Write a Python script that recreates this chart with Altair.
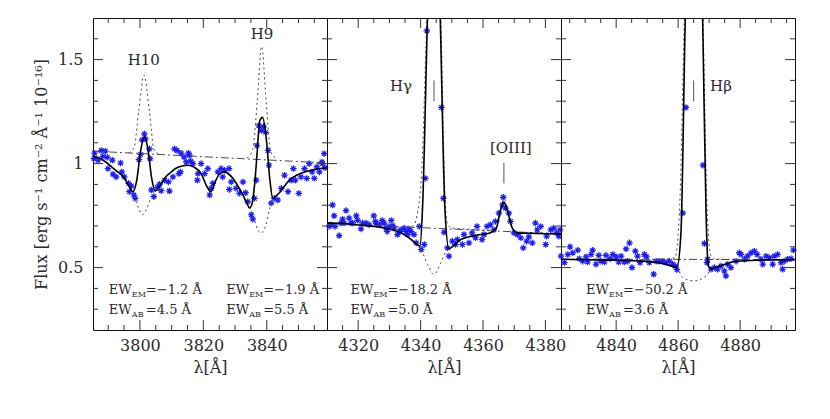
import altair as alt
import pandas as pd

FONT = "DejaVu Serif"
TXT = "#2a2a2a"
W, H = 234, 312
Y_DOMAIN = [0.2, 1.7]
Y_MAJ = [0.5, 1.0, 1.5]
Y_MIN = [0.3, 0.4, 0.6, 0.7, 0.8, 0.9, 1.1, 1.2, 1.3, 1.4, 1.6]

# ---------------- panel 1 (H10, H9) ----------------
p1_dom = [3785.2, 3859.0]
p1_xmaj = [3800, 3820, 3840]
p1_xmin = [3790, 3795, 3805, 3810, 3815, 3825, 3830, 3835, 3845, 3850, 3855]
p1_wl = [3785.5, 3785.7, 3786.8, 3787.8, 3788.3, 3789.1, 3789.7, 3789.9, 3791.3, 3791.5, 3792.5,
         3793.9, 3794.3, 3795.1, 3796.4, 3796.7, 3797.3, 3798.1, 3798.5, 3799.7, 3800.2, 3800.7,
         3801.4, 3801.7, 3803.0, 3803.2, 3803.6, 3804.4, 3805.5, 3806.2, 3806.7, 3807.8, 3809.0,
         3809.3, 3810.4, 3810.9, 3811.7, 3812.3, 3812.8, 3813.0, 3813.9, 3814.6, 3815.3, 3815.6,
         3816.0, 3816.7, 3818.1, 3818.3, 3819.3, 3820.4, 3821.4, 3822.0, 3822.5, 3823.0, 3824.6,
         3825.6, 3826.1, 3826.7, 3828.1, 3828.2, 3828.8, 3830.3, 3831.4, 3832.5, 3833.3, 3834.0,
         3835.1, 3835.6, 3836.1, 3836.7, 3836.9, 3837.5, 3838.3, 3839.0, 3839.6, 3840.4, 3840.7,
         3841.4, 3842.4, 3843.5, 3844.6, 3845.6, 3846.7, 3847.7, 3848.4, 3849.0, 3850.1, 3850.8,
         3851.9, 3852.6, 3853.4, 3854.3, 3855.0, 3855.8, 3856.6, 3857.4, 3857.6, 3858.1, 3858.4]
p1_fl = [1.024, 1.050, 1.016, 1.063, 1.035, 1.060, 1.030, 0.976, 1.016, 0.949, 0.936,
         1.003, 0.960, 0.936, 0.905, 0.865, 0.892, 0.849, 0.833, 1.019, 1.044, 1.114,
         1.143, 1.119, 1.071, 1.024, 0.873, 0.841, 0.886, 0.901, 0.870, 0.920, 0.912,
         0.868, 0.936, 1.071, 1.063, 0.952, 0.960, 1.050, 1.032, 1.008, 1.050, 1.040,
         1.012, 1.000, 0.920, 0.952, 1.000, 0.952, 0.976, 0.849, 0.881, 0.905, 0.960,
         0.976, 0.936, 0.968, 0.976, 0.876, 0.912, 0.881, 0.857, 0.912, 0.860, 0.817,
         0.754, 0.733, 0.833, 0.920, 1.087, 1.182, 1.159, 1.178, 1.150, 1.063, 0.992,
         0.810, 0.833, 0.825, 0.881, 0.944, 0.865, 0.920, 0.976, 0.920, 0.857, 0.936,
         0.976, 0.929, 1.000, 0.960, 0.929, 0.984, 0.960, 1.008, 1.000, 1.048, 0.980]
p1_mod_wl = [3785.2, 3787.0, 3789.0, 3791.0, 3793.0, 3794.2, 3795.5, 3796.8, 3797.8, 3799.0,
             3800.2, 3801.5, 3802.6, 3803.7, 3804.8, 3806.0, 3807.8, 3810.0, 3812.0, 3815.1,
             3817.2, 3819.3, 3820.9, 3822.4, 3823.8, 3825.1, 3826.7, 3828.0, 3829.3, 3831.0,
             3832.5, 3833.7, 3834.6, 3835.4, 3836.2, 3837.0, 3837.8, 3838.7, 3839.9, 3841.0,
             3841.9, 3843.0, 3844.0, 3845.5, 3847.1, 3849.5, 3852.4, 3855.5, 3859.0]
p1_mod_fl = [1.035, 1.028, 1.010, 0.985, 0.960, 0.945, 0.920, 0.885, 0.866, 0.920,
             1.060, 1.130, 1.060, 0.930, 0.868, 0.885, 0.930, 0.962, 0.982, 0.992,
             0.982, 0.952, 0.897, 0.865, 0.915, 0.950, 0.960, 0.950, 0.929, 0.890,
             0.849, 0.810, 0.787, 0.810, 0.905, 1.060, 1.206, 1.222, 1.111, 0.920,
             0.832, 0.845, 0.860, 0.890, 0.920, 0.945, 0.962, 0.973, 0.980]
p1_cont_wl = [3785.2, 3859.0]
p1_cont_fl = [1.060, 1.003]
p1_emi_seg = ["a"] * 7 + ["b"] * 7
p1_emi_wl = [3796.5, 3798.2, 3799.6, 3801.3, 3803.0, 3804.4, 3805.8,
             3833.8, 3835.6, 3837.0, 3838.4, 3839.8, 3841.2, 3843.0]
p1_emi_fl = [1.051, 1.080, 1.250, 1.425, 1.250, 1.070, 1.047,
             1.027, 1.070, 1.300, 1.563, 1.300, 1.060, 1.024]
p1_abs_seg = ["a"] * 8 + ["b"] * 9
p1_abs_wl = [3796.8, 3797.8, 3799.0, 3800.8, 3802.6, 3803.6, 3804.8, 3806.0,
             3833.7, 3834.6, 3835.6, 3836.7, 3838.1, 3839.6, 3840.9, 3841.9, 3843.0]
p1_abs_fl = [0.885, 0.862, 0.810, 0.754, 0.800, 0.845, 0.868, 0.885,
             0.810, 0.787, 0.760, 0.700, 0.665, 0.700, 0.780, 0.832, 0.845]
p1_lab_wl = [3801.2, 3838.5]
p1_lab_fl = [1.500, 1.624]
p1_lab_tx = ["H10", "H9"]
p1_ew_wl = [3790.2, 3790.2, 3827.2, 3827.2]
p1_ew_fl = [0.373, 0.278, 0.373, 0.278]
p1_ew_sub = ["EM", "AB", "EM", "AB"]
p1_ew_val = ["=\u22121.2  Å", "=4.5  Å", "=\u22121.9  Å", "=5.5  Å"]

# ---------------- panel 2 (Hgamma, [OIII]) ----------------
p2_dom = [4310.0, 4385.0]
p2_xmaj = [4320, 4340, 4360, 4380]
p2_xmin = [4315, 4325, 4330, 4335, 4345, 4350, 4355, 4365, 4370, 4375]
p2_wl = [4310.7, 4311.3, 4311.8, 4312.3, 4312.6, 4313.9, 4314.5, 4315.0, 4315.5, 4316.1, 4317.1,
         4317.7, 4318.2, 4319.4, 4319.8, 4320.9, 4321.4, 4322.5, 4323.5, 4325.0, 4325.5, 4325.7,
         4326.8, 4327.7, 4328.3, 4328.9, 4329.3, 4329.9, 4330.6, 4331.1, 4331.5, 4332.6, 4333.2,
         4333.7, 4334.7, 4335.3, 4335.8, 4336.3, 4336.9, 4337.9, 4338.6, 4339.6, 4340.2, 4341.2,
         4341.5, 4342.0, 4346.7, 4347.3, 4347.5, 4348.6, 4349.1, 4350.2, 4351.2, 4351.8, 4353.4,
         4353.9, 4355.5, 4356.5, 4357.6, 4358.1, 4359.7, 4360.3, 4361.3, 4362.4, 4363.5, 4364.0,
         4365.1, 4366.2, 4366.5, 4367.2, 4368.3, 4368.8, 4369.9, 4371.0, 4372.1, 4372.9, 4374.0,
         4374.7, 4375.8, 4376.8, 4377.4, 4378.5, 4380.1, 4380.4, 4381.7, 4382.7, 4383.6, 4384.3,
         4384.7]
p2_fl = [0.698, 0.705, 0.801, 0.749, 0.698, 0.654, 0.714, 0.733, 0.714, 0.774, 0.738,
         0.714, 0.714, 0.749, 0.727, 0.686, 0.714, 0.714, 0.706, 0.749, 0.722, 0.714,
         0.706, 0.727, 0.714, 0.690, 0.674, 0.698, 0.727, 0.701, 0.690, 0.659, 0.674,
         0.682, 0.690, 0.674, 0.659, 0.686, 0.674, 0.659, 0.619, 0.698, 0.587, 0.611,
         0.929, 1.638, 1.270, 0.833, 0.670, 0.595, 0.555, 0.627, 0.611, 0.635, 0.611,
         0.659, 0.619, 0.667, 0.643, 0.698, 0.635, 0.659, 0.698, 0.706, 0.682, 0.722,
         0.762, 0.801, 0.838, 0.786, 0.762, 0.722, 0.667, 0.659, 0.643, 0.595, 0.627,
         0.648, 0.619, 0.714, 0.682, 0.698, 0.611, 0.651, 0.682, 0.690, 0.667, 0.651,
         0.682]
p2_mod_wl = [4310.0, 4315.0, 4320.0, 4325.0, 4330.0, 4334.0, 4337.0, 4339.0, 4339.8, 4340.6,
             4342.2, 4344.3, 4346.3, 4347.8, 4349.1, 4350.5, 4352.9, 4356.0, 4359.3, 4362.5,
             4364.3, 4365.5, 4366.7, 4367.9, 4369.4, 4371.0, 4375.0, 4380.0, 4385.0]
p2_mod_fl = [0.715, 0.712, 0.705, 0.698, 0.685, 0.665, 0.635, 0.610, 0.603, 0.780,
             1.700, 2.800, 1.700, 0.780, 0.590, 0.605, 0.635, 0.650, 0.659, 0.668,
             0.690, 0.770, 0.815, 0.770, 0.690, 0.667, 0.665, 0.663, 0.662]
p2_cont_wl = [4310.0, 4385.0]
p2_cont_fl = [0.712, 0.662]
p2_emi_seg = ["a"] * 17
p2_emi_wl = [4334.0, 4337.5, 4339.2, 4340.3, 4342.0, 4344.3, 4346.5, 4347.8, 4348.6, 4350.0,
             4355.0, 4362.0, 4364.6, 4366.7, 4369.0, 4371.0, 4385.0]
p2_emi_fl = [0.695, 0.700, 0.780, 0.950, 1.700, 2.700, 1.700, 0.850, 0.710, 0.690,
             0.685, 0.680, 0.700, 0.830, 0.700, 0.670, 0.665]
p2_abs_seg = ["a"] * 8
p2_abs_wl = [4337.0, 4339.8, 4342.2, 4344.3, 4346.5, 4348.0, 4349.1, 4350.5]
p2_abs_fl = [0.635, 0.600, 0.516, 0.468, 0.524, 0.575, 0.590, 0.605]
p2_lab_wl = [4333.7, 4368.9]
p2_lab_fl = [1.373, 1.074]
p2_lab_tx = ["H\u03b3", "[OIII]"]
p2_mark_wl = [4344.3, 4366.7]
p2_mark_lo = [1.30, 0.905]
p2_mark_hi = [1.40, 1.003]
p2_ew_wl = [4317.5, 4317.5]
p2_ew_fl = [0.373, 0.278]
p2_ew_sub = ["EM", "AB"]
p2_ew_val = ["=\u221218.2  Å", "=5.0  Å"]

# ---------------- panel 3 (Hbeta) ----------------
p3_dom = [4822.2, 4897.7]
p3_xmaj = [4840, 4860, 4880]
p3_xmin = [4825, 4830, 4835, 4845, 4850, 4855, 4865, 4870, 4875, 4885, 4890, 4895]
p3_wl = [4822.2, 4823.3, 4824.4, 4825.1, 4826.0, 4827.6, 4828.1, 4829.2, 4830.3, 4830.8, 4831.9,
         4832.4, 4833.5, 4834.4, 4835.1, 4836.2, 4836.7, 4838.0, 4838.9, 4840.0, 4840.8, 4841.6,
         4842.6, 4843.2, 4843.7, 4844.3, 4845.1, 4846.2, 4846.9, 4847.7, 4849.1, 4849.8, 4850.7,
         4852.1, 4852.9, 4853.9, 4855.0, 4856.1, 4857.2, 4858.2, 4859.1, 4859.6, 4861.5, 4862.5,
         4868.0, 4868.5, 4869.3, 4869.5, 4870.6, 4871.7, 4872.7, 4873.8, 4874.9, 4875.4, 4876.0,
         4877.0, 4878.7, 4879.7, 4880.3, 4881.4, 4882.4, 4883.5, 4884.6, 4885.5, 4886.7, 4887.3,
         4888.4, 4889.4, 4890.5, 4891.0, 4892.1, 4893.2, 4893.7, 4894.2, 4895.3, 4896.4, 4897.2]
p3_fl = [0.555, 0.524, 0.563, 0.600, 0.571, 0.584, 0.543, 0.531, 0.552, 0.527, 0.563,
         0.584, 0.516, 0.559, 0.531, 0.527, 0.559, 0.543, 0.563, 0.552, 0.527, 0.555,
         0.527, 0.590, 0.531, 0.619, 0.500, 0.579, 0.555, 0.524, 0.563, 0.552, 0.524,
         0.468, 0.531, 0.531, 0.531, 0.524, 0.531, 0.516, 0.508, 0.490, 0.762, 1.270,
         0.992, 0.616, 0.524, 0.540, 0.492, 0.500, 0.492, 0.508, 0.484, 0.460, 0.516,
         0.500, 0.531, 0.571, 0.563, 0.540, 0.555, 0.571, 0.579, 0.563, 0.540, 0.516,
         0.555, 0.548, 0.516, 0.555, 0.563, 0.524, 0.492, 0.531, 0.540, 0.543, 0.584]
p3_mod_wl = [4822.2, 4830.0, 4840.0, 4846.0, 4850.0, 4854.0, 4857.0, 4859.6, 4860.9, 4862.3,
             4865.0, 4867.9, 4869.0, 4869.7, 4870.6, 4872.0, 4874.0, 4876.0, 4878.1, 4885.0,
             4890.0, 4897.7]
p3_mod_fl = [0.540, 0.538, 0.536, 0.533, 0.530, 0.522, 0.512, 0.500, 0.667, 1.700,
             3.000, 1.700, 0.760, 0.510, 0.495, 0.500, 0.510, 0.520, 0.530, 0.535,
             0.537, 0.538]
p3_cont_wl = [4822.2, 4897.7]
p3_cont_fl = [0.541, 0.538]
p3_emi_seg = ["a"] * 11
p3_emi_wl = [4855.0, 4859.0, 4860.5, 4862.0, 4865.0, 4868.0, 4869.3, 4870.5, 4872.0, 4876.0, 4880.0]
p3_emi_fl = [0.540, 0.548, 0.800, 1.700, 3.000, 1.700, 0.800, 0.560, 0.540, 0.540, 0.540]
p3_abs_seg = ["a"] * 6
p3_abs_wl = [4858.0, 4859.6, 4861.5, 4865.2, 4869.0, 4870.6]
p3_abs_fl = [0.508, 0.500, 0.452, 0.436, 0.460, 0.495]
p3_lab_wl = [4873.8]
p3_lab_fl = [1.373]
p3_lab_tx = ["H\u03b2"]
p3_mark_wl = [4865.0]
p3_mark_lo = [1.30]
p3_mark_hi = [1.40]
p3_ew_wl = [4830.3, 4830.3]
p3_ew_fl = [0.373, 0.278]
p3_ew_sub = ["EM", "AB"]
p3_ew_val = ["=\u221250.2  Å", "=3.6  Å"]

ASTERISK = "M-1,0L1,0M0,-1L0,1M-0.7,-0.7L0.7,0.7M-0.7,0.7L0.7,-0.7"


def panel(dom, xmaj, xmin, pw, pf, mw, mf, cw, cf, es, ew, ef, as_, aw, af,
          lw, lf, lt, ew_w, ew_f, ew_s, ew_v, mk=None, first=False):
    xs = alt.Scale(domain=dom, nice=False, zero=False)
    ys = alt.Scale(domain=Y_DOMAIN, nice=False, zero=False)
    xaxis = alt.Axis(values=xmaj, format="d", title="λ[Å]", labelFlush=False,
                     labelPadding=7, titlePadding=6, labelOverlap=False,
                     grid=False, domain=False, ticks=False)
    if first:
        yaxis = alt.Axis(values=Y_MAJ, format="~g",
                         title="Flux [erg s\u207b\u00b9 cm\u207b\u00b2 Å\u207b\u00b9 10\u207b\u00b9\u2076]",
                         labelPadding=10, titleX=-52, titleBaseline="middle",
                         grid=False, domain=False, ticks=False)
    else:
        yaxis = None
    X = lambda: alt.X("wl:Q", scale=xs, axis=xaxis)
    Y = lambda: alt.Y("fl:Q", scale=ys, axis=yaxis)

    pts = alt.Chart(pd.DataFrame({"wl": pw, "fl": pf})).mark_point(
        shape=ASTERISK, filled=False, size=42, strokeWidth=1.2, color="#1a1aff", opacity=1
    ).encode(x=X(), y=Y())

    cont = alt.Chart(pd.DataFrame({"wl": cw, "fl": cf})).mark_line(
        clip=True, color="#4a4a4a", strokeWidth=1, strokeDash=[8, 3, 2, 3]
    ).encode(x=X(), y=Y())
    emi = alt.Chart(pd.DataFrame({"wl": ew, "fl": ef, "seg": es})).mark_line(
        clip=True, color="#4a4a4a", strokeWidth=1, strokeDash=[2, 3], interpolate="monotone"
    ).encode(x=X(), y=Y(), detail="seg:N")
    absn = alt.Chart(pd.DataFrame({"wl": aw, "fl": af, "seg": as_})).mark_line(
        clip=True, color="#4a4a4a", strokeWidth=1, strokeDash=[2, 3], interpolate="monotone"
    ).encode(x=X(), y=Y(), detail="seg:N")
    model = alt.Chart(pd.DataFrame({"wl": mw, "fl": mf})).mark_line(
        clip=True, color="#000000", strokeWidth=1.6, interpolate="monotone"
    ).encode(x=X(), y=Y())

    labels = alt.Chart(pd.DataFrame({"wl": lw, "fl": lf, "t": lt})).mark_text(
        font=FONT, fontSize=15, color=TXT, align="center", baseline="middle"
    ).encode(x=X(), y=Y(), text="t:N")

    ewdf = pd.DataFrame({"wl": ew_w, "fl": ew_f, "s": ew_s, "v": ew_v, "e": ["EW"] * len(ew_w)})
    ew_main = alt.Chart(ewdf).mark_text(font=FONT, fontSize=13, color=TXT, align="left",
                                        baseline="alphabetic").encode(x=X(), y=Y(), text="e:N")
    ew_sub = alt.Chart(ewdf).mark_text(font=FONT, fontSize=8, color=TXT, align="left",
                                       baseline="alphabetic", dx=23, dy=3).encode(x=X(), y=Y(), text="s:N")
    ew_val = alt.Chart(ewdf).mark_text(font=FONT, fontSize=13, color=TXT, align="left",
                                       baseline="alphabetic", dx=37).encode(x=X(), y=Y(), text="v:N")

    layers = [pts, cont, emi, absn, model, labels, ew_main, ew_sub, ew_val]

    if mk is not None:
        mw_, mlo, mhi = mk
        layers.append(alt.Chart(pd.DataFrame({"wl": mw_, "fl": mlo, "f2": mhi})).mark_rule(
            color="#555555", strokeWidth=1).encode(x=X(), y=Y(), y2="f2:Q"))

    tick_col = "#333333"
    for vals, L in ((xmaj, 10), (xmin, 5)):
        df = pd.DataFrame({"wl": vals})
        b = alt.Chart(df).mark_rule(color=tick_col, strokeWidth=1)
        layers.append(b.encode(x=X(), y=alt.value(H), y2=alt.value(H - L)))
        layers.append(b.encode(x=X(), y=alt.value(0), y2=alt.value(L)))
    for vals, L in ((Y_MAJ, 10), (Y_MIN, 5)):
        df = pd.DataFrame({"fl": vals})
        b = alt.Chart(df).mark_rule(color=tick_col, strokeWidth=1)
        layers.append(b.encode(y=Y(), x=alt.value(0), x2=alt.value(L)))
        layers.append(b.encode(y=Y(), x=alt.value(W), x2=alt.value(W - L)))

    return alt.layer(*layers).properties(width=W, height=H)


c1 = panel(p1_dom, p1_xmaj, p1_xmin, p1_wl, p1_fl, p1_mod_wl, p1_mod_fl, p1_cont_wl, p1_cont_fl,
           p1_emi_seg, p1_emi_wl, p1_emi_fl, p1_abs_seg, p1_abs_wl, p1_abs_fl,
           p1_lab_wl, p1_lab_fl, p1_lab_tx, p1_ew_wl, p1_ew_fl, p1_ew_sub, p1_ew_val, first=True)
c2 = panel(p2_dom, p2_xmaj, p2_xmin, p2_wl, p2_fl, p2_mod_wl, p2_mod_fl, p2_cont_wl, p2_cont_fl,
           p2_emi_seg, p2_emi_wl, p2_emi_fl, p2_abs_seg, p2_abs_wl, p2_abs_fl,
           p2_lab_wl, p2_lab_fl, p2_lab_tx, p2_ew_wl, p2_ew_fl, p2_ew_sub, p2_ew_val,
           mk=(p2_mark_wl, p2_mark_lo, p2_mark_hi))
c3 = panel(p3_dom, p3_xmaj, p3_xmin, p3_wl, p3_fl, p3_mod_wl, p3_mod_fl, p3_cont_wl, p3_cont_fl,
           p3_emi_seg, p3_emi_wl, p3_emi_fl, p3_abs_seg, p3_abs_wl, p3_abs_fl,
           p3_lab_wl, p3_lab_fl, p3_lab_tx, p3_ew_wl, p3_ew_fl, p3_ew_sub, p3_ew_val,
           mk=(p3_mark_wl, p3_mark_lo, p3_mark_hi))

chart = alt.hconcat(c1, c2, c3, spacing=0, bounds="flush").properties(
    padding={"left": 24, "top": 9, "right": 5, "bottom": 5}, background="white"
).configure_view(stroke="#111111", strokeWidth=1).configure_axis(
    grid=False, domain=False, ticks=False,
    labelFont=FONT, titleFont=FONT, labelFontSize=16, titleFontSize=16,
    labelColor=TXT, titleColor=TXT, titleFontWeight="normal"
)

chart.save("out.html", embed_options={"renderer": "svg", "actions": False})
